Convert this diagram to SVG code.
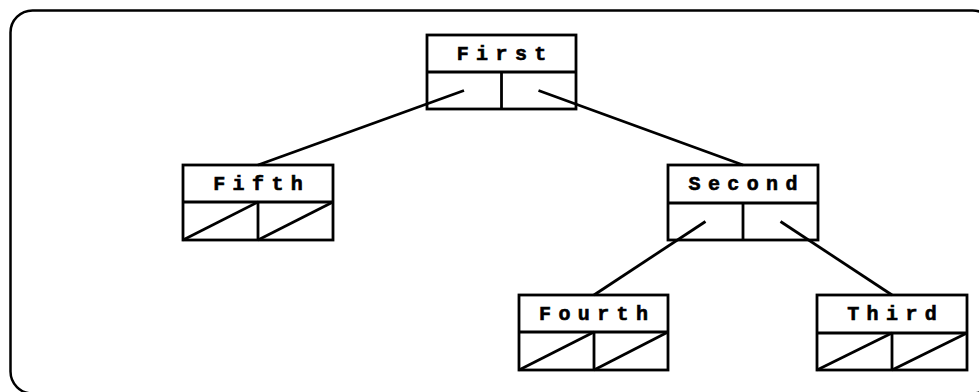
<svg xmlns="http://www.w3.org/2000/svg" width="979" height="392" viewBox="0 0 979 392">
<style>
.frame{fill:none;stroke:#000;stroke-width:2.5}
.box{fill:#fff;stroke:#000;stroke-width:2.8}
.ln{stroke:#000;stroke-width:2.8;fill:none}
.lbl{font-family:"Liberation Mono","Courier New",monospace;font-weight:bold;font-size:20px;letter-spacing:7.4px;text-anchor:middle;fill:#000;stroke:#000;stroke-width:0.6}
</style>
<rect class="frame" x="10.5" y="10.5" width="984" height="383" rx="22"/>
<g id="first">
<rect class="box" x="427" y="35" width="149" height="74"/>
<line class="ln" x1="427" y1="72" x2="576" y2="72"/>
<line class="ln" x1="501.5" y1="72" x2="501.5" y2="109"/>
<text class="lbl" x="505.2" y="60">First</text>
</g>
<g id="fifth">
<rect class="box" x="183" y="165" width="150" height="75"/>
<line class="ln" x1="183" y1="202" x2="333" y2="202"/>
<line class="ln" x1="258" y1="202" x2="258" y2="240"/>
<line class="ln" x1="183" y1="240" x2="258" y2="202"/>
<line class="ln" x1="258" y1="240" x2="333" y2="202"/>
<text class="lbl" x="261.7" y="190">Fifth</text>
</g>
<g id="second">
<rect class="box" x="668" y="165" width="150" height="75"/>
<line class="ln" x1="668" y1="203" x2="818" y2="203"/>
<line class="ln" x1="743" y1="203" x2="743" y2="240"/>
<text class="lbl" x="746.7" y="190">Second</text>
</g>
<g id="fourth">
<rect class="box" x="519" y="295" width="149" height="75"/>
<line class="ln" x1="519" y1="332" x2="668" y2="332"/>
<line class="ln" x1="594" y1="332" x2="594" y2="370"/>
<line class="ln" x1="519" y1="370" x2="594" y2="332"/>
<line class="ln" x1="594" y1="370" x2="668" y2="332"/>
<text class="lbl" x="597.2" y="320">Fourth</text>
</g>
<g id="third">
<rect class="box" x="817" y="295" width="150" height="75"/>
<line class="ln" x1="817" y1="333" x2="967" y2="333"/>
<line class="ln" x1="892" y1="333" x2="892" y2="370"/>
<line class="ln" x1="817" y1="370" x2="892" y2="333"/>
<line class="ln" x1="892" y1="370" x2="967" y2="333"/>
<text class="lbl" x="895.7" y="320">Third</text>
</g>
<g id="connectors">
<line class="ln" x1="464" y1="90.5" x2="258" y2="165"/>
<line class="ln" x1="538.5" y1="90.5" x2="743" y2="165"/>
<line class="ln" x1="705.5" y1="221.5" x2="594" y2="295"/>
<line class="ln" x1="780.5" y1="221.5" x2="892" y2="295"/>
</g>
</svg>
